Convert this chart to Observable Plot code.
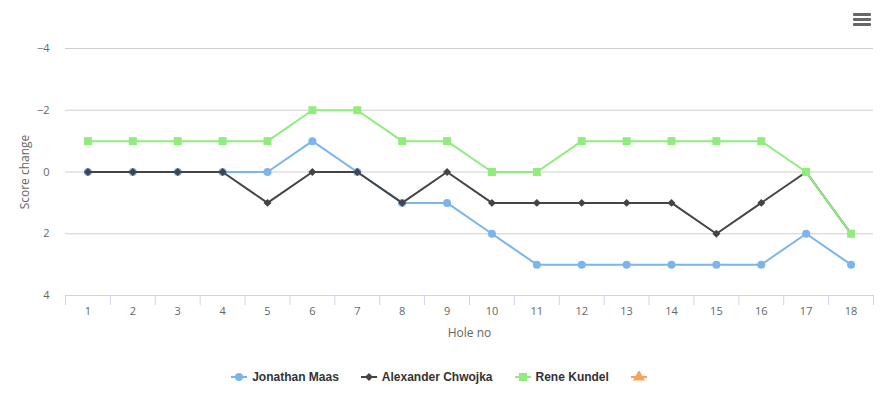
<!DOCTYPE html>
<html>
<head>
<meta charset="utf-8">
<script src="https://cdn.jsdelivr.net/npm/d3@7"></script>
<script src="https://cdn.jsdelivr.net/npm/@observablehq/plot@0.6"></script>
<style>
  html, body { margin: 0; padding: 0; background: #fff; }
  #wrap { position: relative; width: 883px; height: 398px; font-family: "Liberation Sans", Arial, Helvetica, sans-serif; }
  #menu { position: absolute; left: 853px; top: 13px; width: 18px; }
  #menu div { height: 3px; background: #666; margin-bottom: 2px; border-radius: 1px; }
  #legend { position: absolute; left: 0; top: 366px; width: 883px; height: 22px; display: flex; justify-content: center; align-items: center; }
  .item { display: flex; align-items: center; margin: 0 11px; font-size: 12px; font-weight: bold; color: #333; }
  .item svg { margin-right: 5px; }
</style>
</head>
<body>
<div id="wrap">
  <div id="chart"></div>
  <div id="menu"><div></div><div></div><div></div></div>
  <div id="legend"></div>
</div>
<script>
const holes = [1,2,3,4,5,6,7,8,9,10,11,12,13,14,15,16,17,18];
const maas = [0,0,0,0,0,-1,0,1,1,2,3,3,3,3,3,3,2,3];
const chwojka = [0,0,0,0,1,0,0,1,0,1,1,1,1,1,2,1,0,2];
const kundel = [-1,-1,-1,-1,-1,-2,-2,-1,-1,0,0,-1,-1,-1,-1,-1,0,2];
const seriesNames = ["Jonathan Maas", "Alexander Chwojka", "Rene Kundel", ""];
const seriesColors = ["#7cb5ec", "#434348", "#90ed7d", "#f7a35c"];
const seriesSymbols = ["circle", "diamond2", "square", "triangle"];
const yTicks = [-4, -2, 0, 2, 4];
const gridValues = [-4, -2, 0, 2];

const seriesValues = [maas, chwojka, kundel, []];
const rows = seriesValues.map((vals, i) => vals.map((v, j) => ({hole: holes[j], value: v, name: seriesNames[i]})));
const bounds = d3.range(0.5, holes.length + 1, 1);

const dotR = {circle: 4, diamond2: 3.6, square: 4.5, triangle: 4.5};

const marks = [
  Plot.ruleY(gridValues, {stroke: "#cfcfcf", strokeWidth: 1}),
  Plot.axisX(bounds, {tickSize: 10, tickFormat: () => "", stroke: "#ccd6eb", label: null}),
  Plot.ruleY([4], {stroke: "#ccd6eb", strokeWidth: 1}),
  Plot.axisX(holes, {tickSize: 0, tickPadding: 12, fontSize: 11, fill: "#666", label: null}),
  Plot.axisY(yTicks, {tickSize: 0, tickPadding: 16, fontSize: 11, fill: "#666", label: null}),
  Plot.text(["Hole no"], {frameAnchor: "bottom", lineAnchor: "middle", dy: 38, fontSize: 12, fill: "#666"}),
  Plot.text(["Score change"], {frameAnchor: "left", textAnchor: "middle", lineAnchor: "middle", dx: -40, rotate: -90, fontSize: 12, fill: "#666"})
];
rows.forEach((r, i) => {
  if (!r.length) return;
  marks.push(Plot.line(r, {x: "hole", y: "value", stroke: seriesColors[i], strokeWidth: 2}));
  marks.push(Plot.dot(r, {x: "hole", y: "value", fill: seriesColors[i], symbol: seriesSymbols[i], r: dotR[seriesSymbols[i]], stroke: "none"}));
});

const chart = Plot.plot({
  width: 883,
  height: 355,
  marginLeft: 65,
  marginRight: 10,
  marginTop: 48,
  marginBottom: 60,
  style: {fontFamily: '"Open Sans", "Liberation Sans", Arial, sans-serif', background: "#fff"},
  x: {type: "linear", domain: [0.5, 18.5], axis: null},
  y: {type: "linear", domain: [-4, 4], reverse: true, axis: null},
  marks
});
document.getElementById("chart").appendChild(chart);

// legend
const legend = document.getElementById("legend");
seriesNames.forEach((name, i) => {
  const item = document.createElement("div");
  item.className = "item";
  const svg = d3.create("svg").attr("width", 16).attr("height", 12);
  svg.append("line").attr("x1", 0).attr("x2", 16).attr("y1", 6).attr("y2", 6).attr("stroke", seriesColors[i]).attr("stroke-width", 2);
  const symMap = {circle: d3.symbolCircle, diamond2: d3.symbolDiamond2, square: d3.symbolSquare, triangle: d3.symbolTriangle};
  const r = dotR[seriesSymbols[i]];
  svg.append("path").attr("transform", "translate(8,6)").attr("d", d3.symbol(symMap[seriesSymbols[i]], r * r * Math.PI)()).attr("fill", seriesColors[i]);
  item.appendChild(svg.node());
  if (name) {
    const t = document.createElement("span");
    t.textContent = name;
    item.appendChild(t);
  }
  legend.appendChild(item);
});
</script>
</body>
</html>
